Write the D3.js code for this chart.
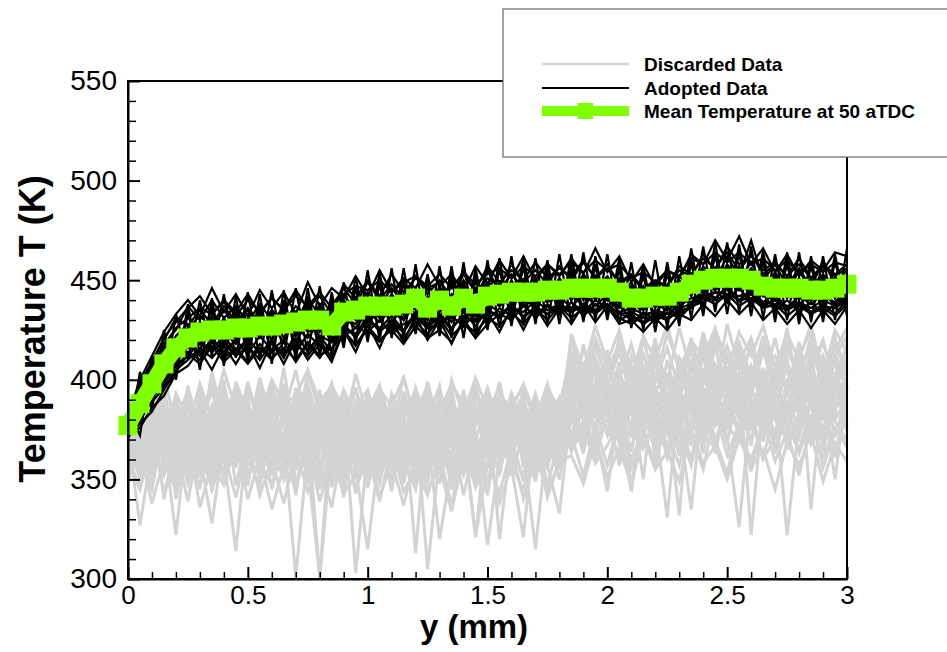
<!DOCTYPE html>
<html><head><meta charset="utf-8">
<script src="https://cdn.jsdelivr.net/npm/d3@7"></script>
<style>
body{margin:0;background:#fff}
svg{display:block}
text{font-family:Arial,"Liberation Sans",Helvetica,sans-serif}
</style>
</head><body>
<svg id="chart" width="947" height="652"></svg>
<script>
// distance from wall, mm
const positions = [
  0,0.05,0.1,0.15,0.2,0.25,0.3,0.35,0.4,0.45,
  0.5,0.55,0.6,0.65,0.7,0.75,0.8,0.85,0.9,0.95,
  1,1.05,1.1,1.15,1.2,1.25,1.3,1.35,1.4,1.45,
  1.5,1.55,1.6,1.65,1.7,1.75,1.8,1.85,1.9,1.95,
  2,2.05,2.1,2.15,2.2,2.25,2.3,2.35,2.4,2.45,
  2.5,2.55,2.6,2.65,2.7,2.75,2.8,2.85,2.9,2.95,
  3];

const meanTemp = [
  377,388,398,408,416,421,424,425,425,426,
  426,427,427,428,429,430,430,427,434,435,
  437,437,437,438,441,436,440,437,441,438,
  442,443,444,444,444,445,445,446,446,446,
  446,444,441,441,442,442,444,448,450,451,
  451,451,450,447,446,446,446,445,445,446,
  448];

const adopted1 = [380,393,405,418,425,437,430,440,431,437, 429,438,430,436,428,441,432,437,446,438, 449,440,448,441,452,443,450,441,453,444, 451,447,458,449,455,448,457,450,459,451, 456,449,453,446,450,447,455,452,463,455, 467,458,462,455,459,452,458,451,457,452, 456];
const adopted2 = [374,381,389,396,405,410,416,411,418,412, 417,410,419,413,418,412,420,411,424,418, 425,419,427,421,429,423,431,422,428,424, 431,427,434,428,436,430,437,431,436,433, 438,430,433,428,432,430,435,436,441,438, 443,437,441,436,438,432,437,433,436,432, 438];
const adopted3 = [377,386,401,409,422,428,421,432,423,430, 420,431,424,433,422,435,426,421,438,431, 441,433,440,430,446,432,444,434,445,433, 447,440,449,438,448,441,451,442,450,440, 449,438,446,437,445,436,448,443,455,446, 457,446,455,444,452,441,451,440,450,443, 451];
const adopted4 = [375,384,393,402,411,418,412,421,414,420, 413,422,415,420,414,423,417,415,428,421, 430,426,432,425,434,428,433,426,432,429, 435,432,438,431,437,433,436,434,438,435, 437,433,434,431,435,433,437,441,442,444, 443,442,444,438,440,437,439,436,440,437, 441];
const adopted5 = [379,396,403,415,420,426,432,426,435,428, 433,426,435,429,437,431,436,429,440,432, 439,433,443,436,445,438,446,437,448,440, 449,444,448,442,446,441,447,440,448,441, 450,446,447,441,445,440,446,450,454,448, 456,449,456,447,452,446,450,447,453,446, 452];
const adopted6 = [372,378,384,395,404,413,408,417,409,415, 408,416,410,419,409,418,411,420,425,417, 427,420,425,418,427,421,425,419,429,421, 428,433,430,437,432,438,433,439,434,440, 436,431,428,432,429,434,431,437,439,444, 440,446,439,443,435,440,434,439,433,438, 442];
const adopted7 = [378,390,399,412,418,423,429,422,428,433, 425,432,423,430,434,426,436,428,431,441, 434,442,435,439,436,447,431,442,436,446, 437,448,440,450,439,452,441,449,443,452, 442,451,443,440,449,438,447,445,452,447, 458,450,459,446,454,443,455,444,452,441, 449];
const adopted8 = [376,387,396,404,413,416,427,419,424,418, 429,421,427,419,432,424,426,422,431,428, 437,431,434,430,438,427,437,429,439,432, 439,438,443,437,441,439,442,436,444,437, 443,436,438,435,440,437,441,444,447,445, 449,445,448,443,445,442,444,441,446,443, 446];
const adopted9 = [381,398,409,420,431,427,435,428,437,429, 436,428,434,427,432,425,438,427,442,436, 444,437,446,439,443,433,447,438,450,439, 455,445,453,446,451,444,450,443,453,446, 452,443,449,438,444,436,452,446,457,450, 462,452,470,450,458,447,456,446,460,448, 455];
const adopted10 = [373,380,392,400,407,412,419,415,422,414, 421,413,420,411,424,414,422,419,426,423, 432,424,430,424,434,430,429,433,436,430, 438,434,436,434,440,435,438,435,437,434, 441,434,436,433,434,431,440,439,445,441, 447,440,445,439,443,436,442,438,443,438, 444];
const adopted11 = [382,400,412,424,433,440,432,446,434,443, 432,445,436,444,433,449,437,446,441,452, 442,455,444,451,446,458,447,453,444,457, 448,460,451,462,450,458,452,461,453,466, 454,462,449,458,447,455,451,463,458,470, 460,472,458,466,454,463,452,460,455,464, 462];
const adopted12 = [372,376,386,392,403,407,415,405,417,408, 418,406,419,408,420,410,418,409,425,414, 428,416,430,419,432,420,430,418,431,421, 434,424,436,425,437,427,436,428,438,429, 437,428,430,424,431,425,433,430,438,432, 440,433,439,430,436,428,435,426,435,428, 437];
const adopted13 = [379,392,397,416,412,432,419,436,418,433, 417,435,419,437,416,439,420,436,425,445, 428,447,426,448,430,451,427,449,429,452, 433,455,434,456,433,457,436,455,435,458, 434,455,431,452,430,453,433,458,437,462, 440,463,437,459,434,458,433,457,434,459, 438];
const adopted14 = [374,395,389,418,407,434,414,437,412,436, 414,438,413,440,415,442,413,440,420,447, 422,449,423,450,425,447,424,452,426,451, 428,456,430,458,431,455,432,459,430,457, 433,457,429,453,428,454,430,460,435,463, 438,465,436,462,433,459,431,458,432,460, 436];
const adopted15 = [380,397,409,421,429,436,442,433,440,434, 443,433,441,435,445,436,442,433,448,441, 450,442,453,444,451,446,449,441,454,445, 457,449,455,450,459,451,456,452,460,451, 458,448,452,445,449,447,457,453,461,456, 464,455,463,453,458,452,461,451,458,453, 458];
const adopted16 = [373,383,394,401,410,414,410,419,411,416, 409,418,411,416,410,419,412,416,422,426, 424,430,423,428,431,426,428,432,427,433, 430,436,432,438,431,437,433,439,432,438, 435,440,428,434,430,436,432,438,443,441, 446,439,443,437,440,435,439,434,438,433, 440];
const adopted17 = [376,389,401,410,419,425,420,429,422,428, 435,423,432,425,430,434,426,424,437,430, 440,432,438,433,444,437,442,436,447,438, 444,440,446,441,450,443,447,441,449,444, 447,442,444,439,443,441,446,450,448,453, 450,446,452,445,449,444,449,443,451,444, 450];
const adopted18 = [378,385,395,406,417,420,427,424,421,425, 422,428,425,424,426,421,429,419,432,426, 434,429,436,431,437,433,436,431,435,430, 440,437,441,439,438,442,439,443,437,445, 440,437,437,436,438,435,439,447,445,448, 447,449,445,444,443,442,441,440,442,439, 445];
const adopted19 = [383,395,407,417,426,431,436,433,439,432, 440,434,441,435,442,437,444,436,443,447, 445,450,444,449,452,447,453,446,454,448, 453,456,451,457,452,458,453,459,454,460, 455,458,451,454,449,455,452,461,458,464, 459,464,458,461,455,460,453,458,454,459, 457];
const adopted20 = [371,379,391,398,407,413,418,414,419,413, 420,414,418,412,421,415,422,414,427,422, 430,425,428,424,433,426,432,425,434,427, 435,431,437,432,436,433,438,434,437,435, 438,433,431,429,433,430,436,438,441,440, 443,440,441,437,437,435,438,434,437,436, 440];
const adopted21 = [385,372,412,395,433,410,440,412,443,411, 444,410,445,412,446,413,447,412,449,418, 455,420,456,421,458,420,457,421,459,422, 460,426,462,427,461,428,463,429,464,430, 463,428,459,425,460,426,462,431,467,434, 469,434,467,431,463,430,464,429,462,430, 466];
const adopted22 = [370,404,385,425,400,438,405,441,407,442, 409,443,408,445,410,446,412,444,416,452, 419,454,421,456,423,453,422,457,421,456, 425,461,427,462,428,460,428,463,429,462, 430,461,426,458,424,459,427,466,432,469, 433,468,432,465,429,464,428,462,429,463, 432];
const adopted23 = [376,391,400,411,421,418,429,421,431,420, 431,422,433,421,434,425,436,423,439,431, 442,432,443,433,446,430,445,432,447,433, 448,437,450,439,449,440,451,440,452,441, 451,439,447,436,448,437,450,442,455,445, 456,445,455,442,452,441,451,440,451,441, 453];
const adopted24 = [378,386,404,405,413,426,419,430,418,432, 421,433,420,434,423,436,424,433,428,440, 431,442,432,443,435,442,434,443,435,445, 436,449,438,450,438,451,439,452,440,452, 440,450,435,447,436,448,438,453,443,456, 445,457,444,453,440,452,440,451,439,452, 442];

const discarded1 = [372,327,365,352,380,360,391,349,378,356, 384,362,375,350,368,381,355,372,361,388, 358,377,349,369,385,354,371,362,390,347, 366,382,352,373,360,386,364,399,379,408, 383,402,371,395,377,410,385,398,370,405, 388,413,376,402,381,396,372,411,384,400, 391];
const discarded2 = [360,378,355,395,340,372,386,358,393,364, 350,380,345,370,301,365,388,354,377,343, 372,355,386,360,345,377,352,385,367,353, 380,358,371,349,377,361,383,368,402,381, 415,389,404,376,397,365,392,407,383,418, 394,380,407,392,372,399,410,386,373,401, 384];
const discarded3 = [385,364,392,370,322,378,357,388,366,398, 371,356,390,363,382,348,379,359,384,303, 365,390,373,357,381,305,362,378,355,385, 369,353,379,362,388,357,374,392,371,396, 380,400,390,350,402,388,375,409,395,380, 403,389,367,398,381,408,392,378,404,386, 395];
const discarded4 = [367,383,374,358,393,381,362,328,370,384, 365,391,368,382,357,376,301,367,392,370, 352,383,366,394,360,372,320,357,381,364, 349,374,390,360,369,378,355,380,405,387, 375,393,386,401,378,331,395,383,412,390, 382,398,376,394,366,388,401,377,392,409, 380];
const discarded5 = [378,355,387,340,369,395,351,380,361,314, 375,397,362,386,348,370,384,346,373,355, 315,366,383,348,376,359,395,374,342,370, 317,361,384,366,315,372,350,383,366,389, 401,378,344,392,371,386,332,400,379,395, 371,326,390,379,400,365,383,397,374,386, 405];
const discarded6 = [355,373,390,365,384,352,377,394,370,382, 360,347,376,396,355,364,373,351,367,379, 369,348,373,385,313,383,365,350,372,321, 380,369,356,321,381,365,389,372,395,374, 344,388,373,397,366,392,378,335,394,370, 386,404,322,389,408,374,391,380,399,371, 393];
const discarded7 = [390,370,358,383,362,397,374,355,387,372, 399,377,352,374,390,364,377,395,349,371, 387,367,358,391,371,380,397,367,352,377, 390,320,372,389,373,357,333,387,371,399, 388,409,344,390,362,403,384,397,375,392, 412,395,383,404,390,322,379,396,381,404, 376];
const discarded8 = [363,384,368,392,375,358,382,365,400,361, 377,389,370,406,368,393,355,379,341,383, 376,359,381,352,369,391,355,373,384,358, 386,371,361,385,357,378,369,394,383,378, 396,371,400,380,409,385,396,373,401,389, 379,400,388,372,397,384,408,335,396,380, 389];
const discarded9 = [370,350,380,371,355,386,368,378,349,373, 387,360,384,364,372,357,301,384,358,376, 362,382,354,377,366,348,383,359,375,321, 358,380,365,352,376,347,371,403,386,363, 392,377,395,383,369,378,390,368,380,404, 390,375,398,369,393,410,381,369,391,350, 397];
const discarded10 = [381,361,345,377,358,367,389,344,374,363, 388,371,358,383,405,375,363,386,367,377, 351,373,366,359,389,376,364,382,361,380, 374,367,388,372,363,379,391,365,389,405, 385,368,392,376,388,400,378,393,367,385, 403,386,370,393,380,371,399,388,375,395, 410];
const discarded11 = [358,376,397,380,367,389,361,371,382,358, 370,354,367,378,362,386,368,358,381,366, 378,385,370,356,373,362,378,354,388,371, 362,387,373,380,367,385,378,409,391,371, 399,383,405,366,382,373,404,387,363,398, 376,391,377,406,363,385,371,402,387,366, 381];
const discarded12 = [374,392,362,386,370,348,372,387,364,392, 376,363,395,358,377,369,350,376,395,361, 383,364,391,368,352,390,371,396,364,388, 363,391,367,376,393,370,358,384,363,392, 407,392,376,408,385,361,383,374,396,363, 392,383,405,387,373,399,388,413,364,392, 386];
const discarded13 = [366,381,371,364,388,376,398,381,405,385, 393,382,400,388,392,405,389,397,386,394, 381,395,387,401,378,393,384,398,388,396, 379,393,385,398,382,394,387,414,402,421, 405,418,398,412,401,423,407,416,403,425, 410,419,402,420,406,417,400,422,408,415, 426];
const discarded14 = [352,368,384,373,392,366,378,399,361,380, 367,392,378,362,385,398,376,365,390,372, 393,379,368,381,395,370,387,376,392,380, 396,377,392,368,390,380,373,420,398,411, 395,421,406,389,414,399,426,404,418,395, 428,405,416,397,421,393,412,425,399,417, 404];
const discarded15 = [368,389,372,396,364,386,371,399,377,390, 368,395,374,398,371,389,365,393,372,396, 370,391,366,394,373,387,364,392,369,398, 372,390,367,386,370,395,375,412,394,419, 397,414,392,420,399,416,395,421,398,417, 393,418,400,422,396,415,402,419,394,421, 403];
const discarded16 = [361,346,375,343,366,339,372,345,363,341, 369,342,360,338,365,344,357,336,370,345, 362,339,367,344,355,342,363,337,368,346, 359,343,366,340,361,345,358,372,352,377, 357,381,360,375,356,383,363,372,355,384, 362,378,354,380,359,374,352,379,361,376, 366];
const discarded17 = [375,358,381,362,389,355,383,366,391,359, 382,367,393,356,386,369,395,358,384,363, 391,357,385,368,394,359,381,370,392,356, 387,365,394,360,383,371,390,381,409,386, 413,382,407,389,418,378,410,391,416,384, 411,393,420,381,408,394,415,386,412,395, 419];
const discarded18 = [353,371,349,382,357,376,345,379,360,372, 347,381,355,374,342,379,358,370,346,383, 353,376,344,380,359,368,348,377,356,373, 342,378,357,369,349,382,361,389,367,393, 372,388,364,396,375,386,362,394,371,389, 368,397,376,387,365,395,373,390,366,398, 374];
const discarded19 = [383,366,396,374,358,387,379,365,394,376, 386,372,398,380,366,390,377,369,395,382, 373,389,380,367,396,378,361,388,375,392, 379,366,393,375,381,368,388,401,382,410, 391,405,384,413,395,402,389,418,399,407, 386,414,397,404,391,420,398,406,388,413, 399];
const discarded20 = [364,377,357,369,382,361,374,353,380,366, 358,375,363,351,380,366,357,378,362,352, 379,363,356,374,361,381,367,354,378,362, 357,375,362,383,368,356,377,380,369,384, 376,362,387,373,359,385,368,380,366,391, 377,369,386,372,395,378,364,389,371,382, 388];
const discarded21 = [371,393,380,359,376,392,365,384,397,375, 362,384,372,391,378,359,382,398,371,386, 395,374,389,377,363,386,394,372,383,401, 385,370,388,396,379,391,367,410,397,386, 403,415,390,407,396,382,411,399,420,405, 396,409,421,398,412,404,390,416,401,412, 422];
const discarded22 = [359,345,367,378,349,370,385,361,352,375, 380,359,347,369,384,352,372,363,356,368, 346,371,360,376,348,366,380,356,363,351, 370,384,359,367,355,374,381,364,376,358, 367,380,356,373,383,362,374,357,386,370, 353,378,385,360,371,387,363,381,356,375, 368];
const discarded23 = [380,370,352,388,375,366,392,382,358,381, 394,379,386,366,394,382,370,389,379,360, 385,397,377,362,388,375,391,380,366,384, 393,378,361,388,374,397,383,396,415,402, 386,400,418,395,410,390,407,386,399,422, 405,388,399,416,392,410,384,403,419,398, 412];
const discarded24 = [357,366,391,368,345,381,358,370,388,347, 374,365,381,392,360,378,386,352,374,396, 367,353,378,389,372,349,375,386,358,379, 388,359,376,371,386,362,372,367,379,360, 383,371,366,385,390,374,357,381,372,366, 387,373,360,378,385,368,381,372,392,379, 370];
const discarded25 = [374,398,368,402,377,395,366,404,380,397, 372,401,379,396,369,404,383,398,375,403, 381,397,373,402,378,394,370,400,382,396, 376,399,371,395,380,398,374,423,405,427, 409,425,401,422,410,428,404,420,411,426, 403,424,412,427,406,423,410,428,402,425, 414];
const discarded26 = [349,365,338,360,344,371,336,358,347,369, 340,362,335,357,346,367,339,361,343,352, 366,341,359,337,363,345,356,334,361,348, 365,338,357,345,368,341,359,362,348,370, 351,366,347,372,355,364,349,375,358,367, 350,371,356,365,345,369,357,373,349,368, 359];
const discarded27 = [366,386,377,360,391,372,384,363,395,378, 361,387,370,394,376,360,392,381,367,389, 374,360,393,380,368,399,376,362,390,371, 384,396,374,361,392,379,366,405,389,416, 400,384,412,396,421,389,409,395,424,401, 417,398,392,414,399,426,391,407,420,396, 418];
const discarded28 = [362,380,393,354,375,389,362,346,383,369, 391,350,378,365,396,360,374,389,352,377, 368,386,354,372,393,361,379,345,374,388, 359,379,392,356,385,377,368,388,372,395, 384,357,378,402,369,392,380,360,389,377, 393,372,381,360,387,378,395,368,383,361, 389];
const discarded29 = [380,354,372,388,366,352,395,371,360,386, 352,374,398,363,387,372,345,367,386,358, 379,394,361,383,355,371,389,366,395,361, 374,352,381,393,362,386,375,398,380,392, 411,396,383,405,392,376,401,415,388,408, 398,417,389,373,406,395,419,392,407,384, 400];
const discarded30 = [371,362,384,394,352,377,389,370,353,399, 383,369,354,387,373,396,366,382,393,354, 375,392,367,349,384,397,356,373,387,368, 394,360,383,378,351,392,368,379,418,389, 398,376,405,385,416,398,371,410,386,419, 382,402,395,419,387,376,413,398,385,411, 395];

const adoptedSeries = [adopted1,adopted2,adopted3,adopted4,adopted5,adopted6,adopted7,adopted8,adopted9,
  adopted10,adopted11,adopted12,adopted13,adopted14,adopted15,adopted16,adopted17,adopted18,
  adopted19,adopted20,adopted21,adopted22,adopted23,adopted24];
const discardedSeries = [discarded1,discarded2,discarded3,discarded4,discarded5,discarded6,discarded7,discarded8,
  discarded9,discarded10,discarded11,discarded12,discarded13,discarded14,discarded15,discarded16,discarded17,
  discarded18,discarded19,discarded20,discarded21,discarded22,discarded23,discarded24,discarded25,discarded26,
  discarded27,discarded28,discarded29,discarded30];

const xTicks = [0,0.5,1,1.5,2,2.5,3];
const xMinorTicks = [0.1,0.2,0.3,0.4,0.6,0.7,0.8,0.9,1.1,1.2,1.3,1.4,1.6,1.7,1.8,1.9,2.1,2.2,2.3,2.4,2.6,2.7,2.8,2.9];
const yTicks = [300,350,400,450,500,550];
const yMinorTicks = [310,320,330,340,360,370,380,390,410,420,430,440,460,470,480,490,510,520,530,540];
const legendLabels = ["Discarded Data","Adopted Data","Mean Temperature at 50 aTDC"];
const xTitle = "y (mm)";
const yTitle = "Temperature T (K)";

const colors = {discarded:"#d3d3d3", adopted:"#000000", mean:"#80ff00"};

const svg = d3.select("#chart");
const x = d3.scaleLinear().domain([0,3]).range([128,847]);
const y = d3.scaleLinear().domain([300,550]).range([579,81]);

const line = d3.line().x((d,i)=>x(positions[i])).y(d=>y(d));

// data lines
const gDisc = svg.append("g");
discardedSeries.forEach(s=>{
  gDisc.append("path").attr("d",line(s)).attr("fill","none")
    .attr("stroke",colors.discarded).attr("stroke-width",3).attr("stroke-linejoin","miter");
});
const gAdo = svg.append("g");
adoptedSeries.forEach(s=>{
  gAdo.append("path").attr("d",line(s)).attr("fill","none")
    .attr("stroke",colors.adopted).attr("stroke-width",2.2).attr("stroke-linejoin","miter");
});
const gMean = svg.append("g");
gMean.append("path").attr("d",line(meanTemp)).attr("fill","none")
  .attr("stroke",colors.mean).attr("stroke-width",16);
gMean.selectAll("rect").data(meanTemp).join("rect")
  .attr("x",(d,i)=>x(positions[i])-9.5).attr("y",d=>y(d)-9.5)
  .attr("width",19).attr("height",19).attr("fill",colors.mean);

// frame
svg.append("rect").attr("x",128).attr("y",81).attr("width",847-128).attr("height",579-81)
  .attr("fill","none").attr("stroke","#000").attr("stroke-width",2);

// axes
const xAxis = d3.axisBottom(x).tickValues(xTicks).tickSize(-12).tickSizeOuter(0).tickPadding(7)
  .tickFormat(d=>String(d));
const gx = svg.append("g").attr("transform","translate(0,579)").call(xAxis);
gx.select(".domain").attr("stroke-width",2);
gx.selectAll(".tick line").attr("stroke-width",2);
gx.selectAll(".tick text").attr("font-size",26).attr("fill","#000")
  .style("font-family","Arial, 'Liberation Sans', sans-serif");
const xMinor = d3.axisBottom(x).tickValues(xMinorTicks).tickSize(-7).tickSizeOuter(0).tickFormat("");
const gxm = svg.append("g").attr("transform","translate(0,579)").call(xMinor);
gxm.select(".domain").remove();
gxm.selectAll(".tick line").attr("stroke-width",1.5);

const yAxis = d3.axisLeft(y).tickValues(yTicks).tickSize(-12).tickSizeOuter(0).tickPadding(11);
const gy = svg.append("g").attr("transform","translate(128,0)").call(yAxis);
gy.select(".domain").attr("stroke-width",2);
gy.selectAll(".tick line").attr("stroke-width",2);
gy.selectAll(".tick text").attr("font-size",28).attr("fill","#000")
  .style("font-family","Arial, 'Liberation Sans', sans-serif");
const yMinor = d3.axisLeft(y).tickValues(yMinorTicks).tickSize(-8).tickSizeOuter(0).tickFormat("");
const gym = svg.append("g").attr("transform","translate(128,0)").call(yMinor);
gym.select(".domain").remove();
gym.selectAll(".tick line").attr("stroke-width",1.5);

// titles
svg.append("text").attr("x",474).attr("y",638).attr("text-anchor","middle")
  .attr("font-size",33).attr("font-weight","bold").text(xTitle);
svg.append("text").attr("transform","translate(45,329) rotate(-90)").attr("text-anchor","middle")
  .attr("font-size",36).attr("font-weight","bold").text(yTitle);

// legend
const lg = svg.append("g");
lg.append("rect").attr("x",503).attr("y",9).attr("width",460).attr("height",148)
  .attr("fill","#fff").attr("stroke","#666").attr("stroke-width",1.2);
const legendRows = [
  {label:legendLabels[0], color:colors.discarded, w:2.4, y:64, marker:false},
  {label:legendLabels[1], color:colors.adopted, w:1.8, y:88, marker:false},
  {label:legendLabels[2], color:colors.mean, w:10, y:111, marker:true}
];
legendRows.forEach(r=>{
  lg.append("line").attr("x1",542).attr("x2",629).attr("y1",r.y).attr("y2",r.y)
    .attr("stroke",r.color).attr("stroke-width",r.w);
  if(r.marker){
    lg.append("rect").attr("x",578).attr("y",r.y-8).attr("width",15).attr("height",16).attr("fill",r.color);
  }
  lg.append("text").attr("x",644).attr("y",r.y+6.5).attr("font-size",19).attr("font-weight","bold")
    .attr("fill","#000").text(r.label);
});
</script>
</body></html>
